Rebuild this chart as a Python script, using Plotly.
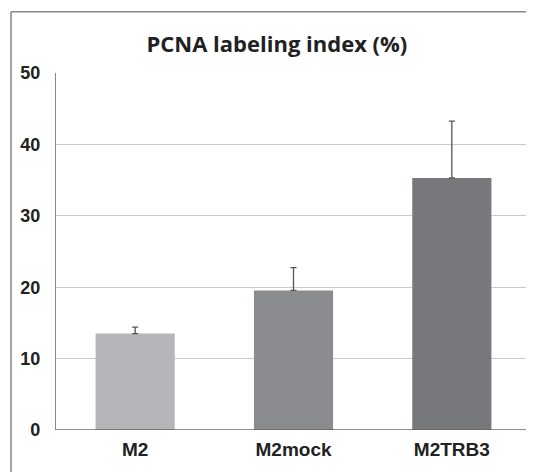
import plotly.graph_objects as go

categories = ["M2", "M2mock", "M2TRB3"]
values = [13.5, 19.55, 35.3]
errors_up = [0.9, 3.2, 7.95]
errors_down = [0, 0, 0]
bar_colors = ["#b5b6b9", "#8b8c8f", "#77787c"]
y_ticks = [0, 10, 20, 30, 40, 50]

fig = go.Figure()
fig.add_trace(go.Bar(
    x=categories, y=values, width=0.5,
    marker=dict(color=bar_colors, line=dict(width=0)),
    error_y=dict(type="data", symmetric=False, array=errors_up, arrayminus=errors_down,
                 color="#555555", thickness=1.3, width=3),
))

frame_line = dict(color="#888888", width=1.5)

fig.update_layout(
    width=540, height=464,
    margin=dict(l=48, r=17, t=65, b=38),
    paper_bgcolor="white", plot_bgcolor="white",
    showlegend=False,
    title=dict(text="<b>PCNA labeling index (%)</b>", x=0.498, xanchor="center",
               y=0.922, yanchor="middle",
               font=dict(family="Open Sans", size=22, color="#222222")),
    font=dict(family="Liberation Sans", color="#222222"),
    xaxis=dict(showgrid=False, showline=False, ticks="", range=[-0.5, 2.5],
               ticklabelstandoff=6,
               tickfont=dict(family="Liberation Sans", size=19, color="#222222", weight="bold")),
    yaxis=dict(range=[0, 50], tickvals=y_ticks, showgrid=True, gridcolor="#c9c9c9",
               gridwidth=1.3, zeroline=False, showline=True, linecolor="#888888", linewidth=1.3,
               ticks="", ticklabelstandoff=11,
               tickfont=dict(family="Liberation Sans", size=18, color="#222222", weight="bold")),
    shapes=[
        dict(type="line", xref="paper", yref="y", x0=0, x1=1, y0=0, y1=0,
             line=dict(color="#666666", width=1.3)),
        dict(type="line", xref="paper", yref="paper", x0=-0.0947, x1=-0.0947, y0=-0.3, y1=1.1717,
             line=frame_line),
        dict(type="line", xref="paper", yref="paper", x0=-0.0947, x1=1.1, y0=1.1717, y1=1.1717,
             line=frame_line),
    ],
)

fig.write_html("out.html")
